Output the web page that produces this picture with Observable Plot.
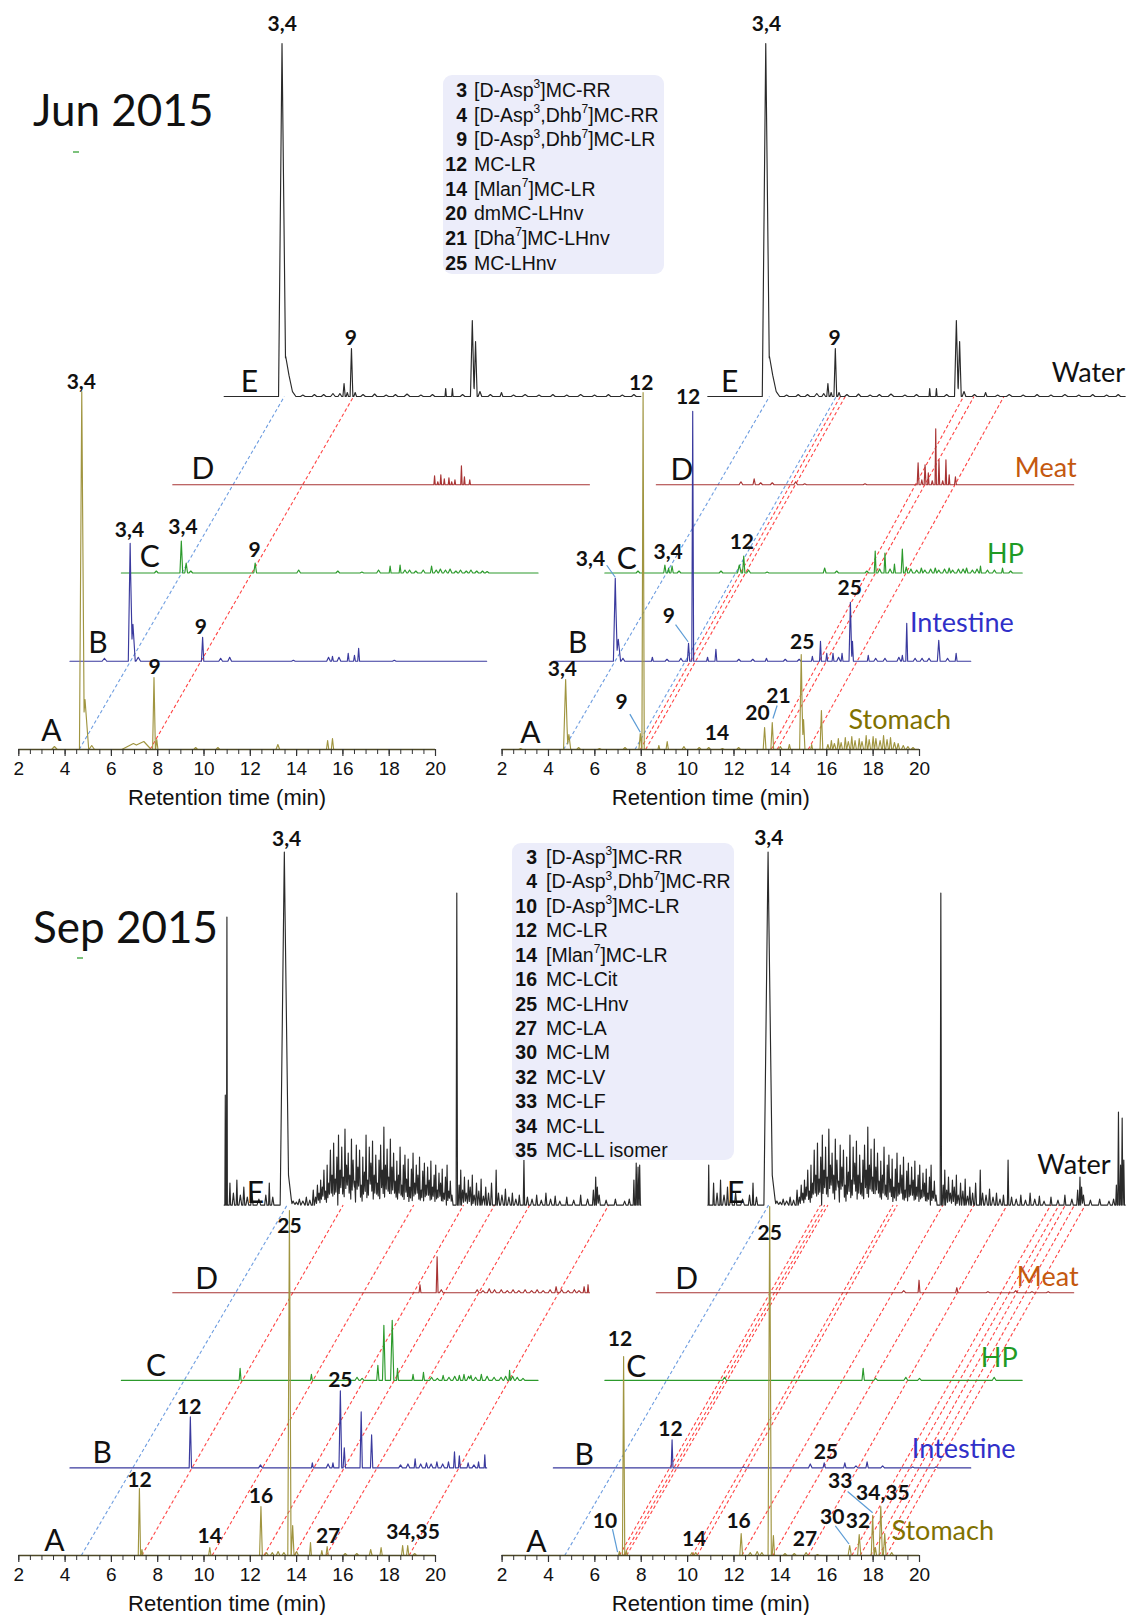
<!DOCTYPE html>
<html>
<head>
<meta charset="utf-8">
<script src="https://cdn.jsdelivr.net/npm/d3@7"></script>
<script src="https://cdn.jsdelivr.net/npm/@observablehq/plot@0.6"></script>
<style>
  body { margin: 0; background: #fff; }
  #page { position: relative; width: 1131px; height: 1615px; overflow: hidden; font-family: "Liberation Sans", Arial, sans-serif; }
  .panel { position: absolute; left: 0; }
  .panel svg { overflow: visible; }
  .title { position: absolute; left: 33px; font-family: Lato, sans-serif; font-size: 44px; line-height: 44px; color: #111; white-space: nowrap; }
  .dash { position: absolute; width: 6px; height: 1.5px; background: #7cc27c; }
  .legend { position: absolute; background: #ecedfa; border-radius: 9px; color: #111; font-family: "Liberation Sans", Arial, sans-serif; font-size: 19.5px; }
  .legend .row { display: flex; align-items: center; white-space: nowrap; }
  .legend .num { font-weight: bold; text-align: right; flex: none; }
  .legend sup { font-size: 12px; line-height: 0; position: relative; top: -1px; }
</style>
</head>
<body>
<div id="page"></div>
<script>
// ---------------- DATA (retention time in min, intensity in relative units) ----------------
const majorTicks = [2, 4, 6, 8, 10, 12, 14, 16, 18, 20];
const axisTitle = "Retention time (min)";
const traceLetters = ["A", "B", "C", "D", "E"];
const sampleNames = ["Stomach", "Intestine", "HP", "Meat", "Water"];

// Jun 2015 - peaks [time, height, halfWidth]
const junWater = [[4.5,353,0.15],[4.66,40,0.3],[4.95,5,0.15],[5.4,1.5,0.1],[5.9,2,0.1],[6.3,2,0.1],[6.7,3,0.1],[7.0,3,0.08],[7.18,13,0.05],[7.32,4,0.05],[7.5,48,0.06],[7.66,4,0.06],[8.0,2,0.1],[8.5,2.5,0.1],[9.0,1.5,0.1],[9.4,2,0.1],[9.9,2.5,0.12],[10.5,1.5,0.1],[11.0,2,0.1],[11.57,8,0.03],[11.86,8,0.03],[12.3,2,0.1],[12.72,76,0.08],[12.86,55,0.07],[13.05,5,0.08],[13.5,2,0.1],[13.98,4,0.06],[14.5,1.5,0.1],[15.0,2,0.12],[15.6,1.5,0.1],[16.2,2,0.1],[16.8,1.5,0.1],[17.4,2,0.12],[18.0,1.5,0.1],[18.6,2,0.1],[19.2,1.5,0.1],[19.7,2,0.1]];
const junL_stomach = [[3.54,3,0.12],[4.72,358,0.1],[4.86,50,0.16],[5.15,4,0.12],[6.95,6,0.5],[7.4,8,0.32],[7.84,72,0.06],[7.96,10,0.05],[9.64,2],[10.6,2],[13.19,5,0.08],[15.34,9,0.05],[15.55,11,0.05]];
const junL_intestine = [[3.49,3,0.1],[4.6,118,0.08],[4.72,37,0.1],[4.95,4,0.1],[7.73,24,0.05],[8.51,3],[8.9,4],[11.65,1],[13.17,4],[13.34,5],[13.62,4],[14.02,8,0.04],[14.29,6,0.04],[14.47,13,0.04],[16.01,1]];
const junL_hp = [[3.51,2],[4.59,32,0.06],[4.8,10,0.06],[5.0,2],[7.78,10,0.06],[9.66,3],[11.35,2],[12.39,1],[13.11,3],[13.61,7,0.04],[14.04,8,0.04],[14.25,3],[14.45,3],[14.72,2],[15.04,3],[15.4,7,0.05],[15.6,3],[15.78,4],[16.0,3],[16.2,4],[16.45,2],[16.65,3],[16.9,2],[17.1,3],[17.35,2],[17.6,2],[17.8,1.5]];
const junL_meat = [[13.31,9,0.03],[13.45,3,0.03],[13.58,10,0.03],[13.73,6,0.03],[13.93,7,0.03],[14.05,3,0.03],[14.19,5,0.03],[14.47,19,0.03],[14.6,8,0.03],[14.83,5,0.03]];
const junR_stomach = [[2.8,1],[4.74,70,0.09],[4.88,15,0.08],[5.3,2],[6.2,1],[7.3,2],[7.96,16,0.06],[8.08,357,0.05],[8.76,4,0.04],[9.12,8,0.05],[9.84,3],[10.5,2],[10.91,2],[11.5,1],[12.2,2],[13.32,22,0.06],[13.65,27,0.06],[14.0,3],[14.39,5,0.05],[14.9,95,0.07],[15.0,30,0.06],[15.35,5],[15.77,39,0.06],[16.05,5,0.06],[16.2,9,0.05],[16.33,6,0.07],[16.5,11,0.05],[16.62,7,0.06],[16.8,12,0.05],[16.93,8,0.07],[17.08,13,0.05],[17.22,9,0.06],[17.4,11,0.05],[17.52,8,0.07],[17.7,14,0.05],[17.83,10,0.06],[18.0,13,0.05],[18.12,11,0.06],[18.3,9,0.07],[18.45,14,0.05],[18.6,10,0.06],[18.75,12,0.05],[18.92,7,0.07],[19.08,6,0.06],[19.3,4,0.08],[19.5,3,0.08],[19.72,2,0.08]];
const junR_intestine = [[4.67,83,0.08],[4.8,22,0.1],[5.0,3],[6.27,4,0.04],[6.9,2],[7.5,3],[7.83,18,0.05],[8.01,250,0.04],[8.65,4,0.04],[9.01,12,0.04],[10.0,2],[10.6,2],[11.19,3,0.05],[12.0,2],[12.6,2],[13.17,5,0.04],[13.52,20,0.04],[13.79,8,0.04],[14.06,8,0.04],[14.3,4],[14.45,8,0.04],[14.81,59,0.06],[14.9,20],[15.58,6,0.04],[15.9,3],[16.3,3],[16.9,4],[17.05,6,0.04],[17.24,38,0.04],[17.6,3],[17.9,3],[18.2,3],[18.62,21,0.06],[19.0,3],[19.37,8,0.04]];
const junR_hp = [[3.43,2],[4.59,8,0.05],[4.75,5,0.04],[4.9,7,0.05],[5.2,2],[7.01,2],[7.8,8,0.08],[7.99,17,0.05],[8.2,3],[9.0,1],[11.48,5,0.06],[12.0,2],[13.3,2],[13.66,22,0.04],[13.85,4],[14.08,20,0.04],[14.3,4],[14.49,9,0.04],[14.83,24,0.05],[15.0,6,0.06],[15.2,4],[15.45,3],[15.65,5,0.06],[15.8,3],[16.05,4],[16.25,5,0.06],[16.4,3],[16.65,4],[16.85,5,0.06],[17.0,3],[17.25,4],[17.45,4],[17.6,5,0.06],[17.85,3],[18.05,4],[18.2,7,0.04],[18.5,3],[18.8,3],[19.15,5,0.04],[19.5,2]];
const junR_meat = [[5.65,3],[6.22,6,0.05],[6.5,2],[7.0,2],[8.01,3],[8.4,1],[11.0,1],[13.29,22,0.04],[13.45,5,0.04],[13.59,20,0.04],[13.73,12,0.03],[13.9,4,0.04],[14.05,56,0.03],[14.19,25,0.03],[14.35,4,0.04],[14.49,25,0.03],[14.63,10,0.03],[14.9,8,0.04]];

// Sep 2015
const sepWater = [[2.25,22,0.03],[2.4,12,0.05],[2.55,25,0.03],[2.7,10,0.06],[2.85,18,0.04],[3.0,8,0.06],[3.2,12,0.05],[3.5,6,0.08],[3.8,10,0.05],[3.95,22,0.03],[4.1,8,0.05],
  [4.6,353,0.18],[4.78,30,0.15],[4.98,4,0.08],[5.12,3],[5.25,6,0.06],[5.4,4],[5.55,8,0.05],[5.7,5,0.06],[5.85,15,0.04],[5.95,8,0.05],[6.03,20,0.04],
  [6.10,12,0.05],[6.17,25,0.03],[6.24,18,0.06],[6.31,35,0.04],[6.38,14,0.05],[6.45,40,0.03],[6.52,22,0.06],[6.59,55,0.04],[6.66,30,0.05],[6.73,62,0.035],[6.80,26,0.06],[6.87,48,0.04],[6.94,70,0.03],[7.01,35,0.06],[7.08,58,0.04],[7.15,28,0.05],[7.22,76,0.035],[7.29,40,0.06],[7.36,52,0.04],[7.43,30,0.05],[7.50,66,0.03],[7.57,45,0.06],[7.64,24,0.04],[7.71,60,0.035],[7.78,38,0.06],[7.85,55,0.04],[7.92,20,0.05],[7.99,48,0.03],[8.06,33,0.06],[8.13,70,0.035],[8.20,25,0.05],[8.27,58,0.04],[8.34,42,0.06],[8.41,64,0.03],[8.48,30,0.05],[8.55,50,0.04],[8.62,22,0.06],[8.69,45,0.035],[8.76,60,0.04],[8.83,35,0.06],[8.90,78,0.03],[8.97,40,0.05],[9.04,56,0.04],[9.11,28,0.06],[9.18,66,0.035],[9.25,38,0.05],[9.32,52,0.04],[9.39,24,0.06],[9.46,44,0.03],[9.53,30,0.05],[9.60,58,0.04],[9.67,20,0.06],[9.74,40,0.035],[9.81,50,0.04],[9.88,26,0.06],[9.95,46,0.03],[10.02,18,0.05],[10.09,36,0.04],[10.16,52,0.035],[10.23,22,0.06],[10.30,40,0.04],[10.37,30,0.05],[10.44,48,0.03],[10.51,15,0.06],[10.58,34,0.04],[10.65,42,0.035],[10.72,20,0.06],[10.79,38,0.04],[10.86,25,0.05],[10.93,44,0.03],[11.00,18,0.06],[11.07,30,0.04],[11.14,40,0.035],[11.21,15,0.06],[11.28,32,0.04],[11.35,22,0.05],[11.42,36,0.03],[11.49,12,0.06],[11.56,28,0.04],[11.63,40,0.03],[11.70,14,0.06],[11.77,24,0.04],[11.84,10,0.05],
  [12.05,312,0.03],[12.15,20,0.04],[12.22,35,0.03],[12.3,15,0.05],[12.38,28,0.04],[12.46,12,0.06],[12.55,25,0.04],[12.63,18,0.05],[12.72,30,0.03],[12.8,10,0.06],[12.9,22,0.04],[13.0,14,0.05],[13.1,26,0.03],[13.2,9,0.06],[13.3,18,0.04],[13.42,12,0.05],[13.55,22,0.04],[13.75,35,0.03],[13.85,12,0.05],[14.0,10,0.06],[14.15,16,0.04],[14.3,8,0.06],[14.45,12,0.04],[14.6,6,0.06],[14.75,10,0.04],[14.95,45,0.03],[15.1,8,0.05],[15.3,6,0.06],[15.5,10,0.04],[15.7,5,0.06],[15.9,12,0.04],[16.1,6,0.06],[16.3,9,0.04],[16.5,4,0.06],[16.8,8,0.04],[17.1,5,0.06],[17.4,10,0.04],[17.7,6,0.06],[17.95,15,0.04],[18.05,28,0.03],[18.12,18,0.04],[18.2,10,0.05],[18.5,5,0.06],[18.9,6,0.05],[19.3,4,0.06],[19.5,6,0.05]];
const sepWaterLeftOnly = [[2.05,110,0.02],[2.12,288,0.02],[19.7,25,0.03],[19.8,42,0.03],[19.88,38,0.03],[19.95,40,0.03]];
const sepWaterRightOnly = [[2.04,40,0.02],[19.62,20,0.03],[19.71,93,0.03],[19.8,40,0.03],[19.87,87,0.03],[19.94,45,0.03]];
const sepL_stomach = [[7.21,67,0.05],[7.32,6,0.04],[10.25,8,0.05],[12.46,49,0.06],[12.7,3],[12.95,3],[13.2,4],[13.45,3],[13.69,345,0.07],[13.83,30,0.06],[14.0,4],[14.6,13,0.04],[15.09,5,0.04],[15.32,9,0.05],[16.1,2],[16.6,2],[17.2,6,0.06],[17.65,8,0.05],[18.58,10,0.05],[18.8,10,0.05],[19.1,2]];
const sepL_intestine = [[7.2,51,0.05],[10.23,3],[12.47,5,0.04],[13.15,4],[13.36,5,0.04],[13.68,77,0.06],[13.85,20,0.05],[14.58,56,0.05],[15.03,33,0.05],[16.28,3],[16.6,4],[16.91,9,0.04],[17.15,4],[17.4,5,0.05],[17.6,4],[17.85,6,0.05],[18.1,4],[18.35,6,0.05],[18.61,16,0.04],[18.82,12,0.04],[19.2,5,0.05],[19.45,3],[19.65,6,0.04],[19.92,13,0.03]];
const sepL_hp = [[7.13,12,0.04],[10.21,6,0.04],[12.18,3],[12.4,2],[13.08,15,0.05],[13.34,55,0.06],[13.7,60,0.07],[13.93,12,0.04],[14.6,6,0.04],[15.05,8,0.04],[15.4,3],[15.65,2],[15.9,5,0.05],[16.15,3],[16.4,4],[16.6,5,0.05],[16.8,6,0.05],[17.0,4],[17.1,5,0.05],[17.3,3],[17.55,6,0.05],[17.8,4],[18.1,3],[18.4,3],[18.6,4],[18.77,10,0.03],[18.9,4],[19.1,3],[19.35,2]];
const sepL_meat = [[12.68,8,0.04],[13.42,36,0.04],[13.6,3],[15.15,3],[15.4,2],[15.67,4],[15.9,3],[16.19,3],[16.45,2],[16.7,3],[16.95,2],[17.22,3],[17.5,2],[17.74,3],[18.0,2],[18.3,3],[18.56,6,0.05],[18.8,3],[19.08,2],[19.35,3],[19.55,2],[19.77,6,0.04],[19.94,8,0.03]];
const sepR_stomach = [[7.06,4,0.04],[7.24,199,0.05],[7.36,5,0.04],[10.19,3],[10.35,3],[12.31,22,0.06],[12.7,3],[13.0,4],[13.2,3],[13.54,349,0.07],[13.7,20,0.05],[14.2,2],[14.6,2],[15.11,3],[15.6,1],[16.99,10,0.07],[17.4,21,0.07],[17.98,40,0.06],[18.1,8,0.05],[18.33,49,0.07],[18.5,22,0.06],[18.8,3]];
const sepR_intestine = [[7.12,28,0.04],[10.2,1],[13.08,4],[13.68,5,0.05],[14.57,5,0.05],[15.05,2],[15.53,6,0.05],[16.2,2],[17.5,1],[18.5,1]];
const sepR_hp = [[7.16,3],[13.14,12,0.05],[13.68,2],[14.98,3],[15.57,2],[18.79,3]];
const sepR_meat = [[12.67,2],[13.33,12.5,0.04],[14.96,5,0.05],[16.3,1],[17.5,2],[18.2,1],[18.9,1]];

// guide lines: [time on A, time on E, kind]
const junL_guides = [[4.61,4.6,"b"],[7.67,7.59,"r"]];
const junR_guides = [[4.65,4.66,"b"],[7.73,7.54,"b"],[7.96,7.72,"r"],[8.19,7.93,"r"],[13.6,13.03,"r"],[13.86,13.48,"r"],[15.2,14.77,"r"]];
const sepL_guides = [[4.7,4.72,"b"],[7.31,7.14,"r"],[10.35,10.19,"r"],[12.59,12.34,"r"],[13.89,13.68,"r"],[15.28,15.2,"r"],[18.86,18.61,"r"]];
const sepR_guides = [[4.7,4.62,"b"],[7.06,6.86,"r"],[7.24,7.04,"r"],[7.37,7.18,"r"],[10.19,9.99,"r"],[10.41,10.17,"r"],[12.34,12.14,"r"],[13.68,13.48,"r"],[15.2,14.91,"r"],[17.08,16.79,"r"],[17.44,17.15,"r"],[17.89,17.42,"r"],[18.25,17.81,"r"],[18.57,18.28,"r"]];

// peak labels: [trace, time, height, text]
const junL_peakLabels = [[0,4.70,367,"3,4"],[0,7.87,82,"9"],[1,4.57,131,"3,4"],[1,7.65,34,"9"],[2,4.66,45.5,"3,4"],[2,7.76,22.5,"9"],[4,4.51,372.5,"3,4"],[4,7.47,58.6,"9"]];
const junR_peakLabels = [[0,4.6,80,"3,4"],[0,7.15,47,"9"],[0,8.0,366,"12"],[0,11.27,16,"14"],[0,13.01,36,"20"],[0,13.92,53,"21"],[0,14.94,107,"25"],[1,3.6,102,"3,4"],[1,6.98,44.8,"9"],[1,7.81,263.5,"12"],[1,14.78,72.8,"25"],[2,4.73,20.7,"3,4"],[2,7.91,30.6,"12"],[4,4.53,372.5,"3,4"],[4,7.47,58.6,"9"]];
const sepL_peakLabels = [[0,7.21,75.7,"12"],[0,10.25,19.7,"14"],[0,12.46,59,"16"],[0,13.69,329,"25"],[0,15.36,19.7,"27"],[0,19.03,23.7,"34,35"],[1,7.15,60.4,"12"],[1,13.68,88,"25"],[4,4.7,366,"3,4"]];
const sepR_peakLabels = [[0,6.44,34.5,"10"],[0,7.08,216,"12"],[0,10.28,16.4,"14"],[0,12.2,34.5,"16"],[0,13.54,322,"25"],[0,15.06,16.4,"27"],[0,16.24,37.8,"30"],[0,17.35,34.5,"32"],[0,16.58,74,"33"],[0,18.42,62.5,"34,35"],[1,7.05,39,"12"],[1,13.75,16,"25"],[4,4.63,367,"3,4"]];

// trace letter label anchors: [trace, time, height]
const junL_letters = [[0,3.41,18],[1,3.21,18],[2,3.23,16],[3,3.3,15],[4,3.09,14]];
const junR_letters = [[0,3.22,16],[1,3.05,18],[2,2.95,14],[3,3.1,14.6],[4,2.94,14]];
const sepL_letters = [[0,3.54,14],[1,3.39,14.4],[2,3.5,14],[3,3.46,13.5],[4,3.35,11.6]];
const sepR_letters = [[0,3.48,13],[1,3.33,12.7],[2,3.36,12.5],[3,3.31,13.5],[4,3.2,11.6]];

// sample labels: [trace, time, height, anchor]
const junR_samples = [[0,16.94,29,"start"],[1,17.38,37.7,"start"],[2,19.28,19,"middle"],[3,18.79,16.4,"middle"],[4,20,23,"end"]];
const sepR_samples = [[0,18.79,23.7,"start"],[1,17.46,18.4,"start"],[2,19.01,22,"middle"],[3,18.88,15,"middle"],[4,17.79,39.6,"middle"]];

// leader lines: [trace, t1, h1, t2, h2]
const junR_leaders = [[0,7.51,35.4,7.96,17.3],[0,13.86,44,13.68,31],[1,4.3,96,4.67,84],[1,7.27,36.7,7.81,19.5]];
const sepR_leaders = [[0,6.76,26.3,6.98,3.3],[0,16.37,29.6,16.96,11.5],[0,16.9,64,17.98,42.8]];

// legends
const junCompoundIds = ["3","4","9","12","14","20","21","25"];
const junCompoundNames = ["[D-Asp^3]MC-RR","[D-Asp^3,Dhb^7]MC-RR","[D-Asp^3,Dhb^7]MC-LR","MC-LR","[Mlan^7]MC-LR","dmMC-LHnv","[Dha^7]MC-LHnv","MC-LHnv"];
const sepCompoundIds = ["3","4","10","12","14","16","25","27","30","32","33","34","35"];
const sepCompoundNames = ["[D-Asp^3]MC-RR","[D-Asp^3,Dhb^7]MC-RR","[D-Asp^3]MC-LR","MC-LR","[Mlan^7]MC-LR","MC-LCit","MC-LHnv","MC-LA","MC-LM","MC-LV","MC-LF","MC-LL","MC-LL isomer"];

// ---------------- STYLE / LAYOUT ----------------
const W = 1131;
const traceColors = ["#a09540", "#3a3a9e", "#2c9a2c", "#a83434", "#2a2a2a"];
const sampleColors = ["#7f7100", "#3030c8", "#1f9b25", "#c4580f", "#111111"];
const guideColors = {b: "#6e9de0", r: "#ff4545"};
const traceDx = [0, 2.21, 4.43, 6.65, 8.87];

function halfWidth(p) { return p[2] !== undefined ? p[2] : (p[1] <= 4 ? 0.08 : 0.04); }
function profile(peaks) {
  const xs = new Set([2, 20]);
  for (const p of peaks) { const w = halfWidth(p); xs.add(p[0] - w); xs.add(p[0]); xs.add(p[0] + w); }
  const arr = [...xs].filter(x => x >= 2 && x <= 20).sort((a, b) => a - b);
  return arr.map(x => [x, d3.max(peaks, p => Math.max(0, p[1] * (1 - Math.abs(x - p[0]) / halfWidth(p)))) || 0]);
}

function panel(cfg) {
  const {xRange, base, step, svgHeight, traces, guides, peakLabels, letters, samples = [], leaders = []} = cfg;
  const X = (i, t) => t + traceDx[i];
  const Y = (i, h) => h + i * step;
  const marks = [];
  for (const k of ["b", "r"]) {
    marks.push(Plot.link(guides.filter(g => g[2] === k), {
      x1: d => X(0, d[0]), y1: () => Y(0, 0), x2: d => X(4, d[1]), y2: () => Y(4, 0),
      stroke: guideColors[k], strokeWidth: 1.1, strokeDasharray: "3.5,2.5"
    }));
  }
  for (const i of [4, 3, 2, 1, 0]) {
    marks.push(Plot.line(profile(traces[i]), {x: d => X(i, d[0]), y: d => Y(i, d[1]), stroke: traceColors[i], strokeWidth: 1.15}));
  }
  marks.push(Plot.ruleY([0], {x1: majorTicks[0], x2: majorTicks[majorTicks.length - 1], stroke: "#4d4826", strokeWidth: 1.4}));
  marks.push(Plot.axisX({ticks: d3.range(2, 20.001, 0.5), tickSize: 5, tickFormat: () => "", stroke: "#333", strokeWidth: 1}));
  marks.push(Plot.axisX({ticks: majorTicks, tickSize: 7, tickPadding: 5, fontSize: 19, stroke: "#333", strokeWidth: 1.2, fill: "#111", label: null}));
  marks.push(Plot.text([axisTitle], {x: () => d3.mean(majorTicks), y: () => -48, fontSize: 22, fill: "#111"}));
  marks.push(Plot.link(leaders, {x1: d => X(d[0], d[1]), y1: d => Y(d[0], d[2]), x2: d => X(d[0], d[3]), y2: d => Y(d[0], d[4]), stroke: "#5b9bd5", strokeWidth: 1.2}));
  marks.push(Plot.text(peakLabels, {x: d => X(d[0], d[1]), y: d => Y(d[0], d[2]), text: d => d[3], fontWeight: "bold", fontSize: 21, fontFamily: "Lato, sans-serif", fill: "#111"}));
  marks.push(Plot.text(letters, {x: d => X(d[0], d[1]), y: d => Y(d[0], d[2]), text: d => traceLetters[d[0]], fontSize: 30, fontFamily: "Lato, sans-serif", fill: "#111"}));
  for (const s of samples) {
    marks.push(Plot.text([s], {x: d => X(d[0], d[1]), y: d => Y(d[0], d[2]), text: d => sampleNames[d[0]], textAnchor: s[3], fontSize: 27, fontFamily: "Lato, sans-serif", fill: sampleColors[s[0]]}));
  }
  return Plot.plot({
    width: W, height: svgHeight,
    marginTop: 0, marginLeft: 0, marginRight: 0, marginBottom: svgHeight - base,
    x: {domain: [2, 20], range: xRange, axis: null},
    y: {domain: [0, base], range: [base, 0], axis: null},
    style: {background: "transparent", overflow: "visible", fontFamily: "'Liberation Sans', Arial, sans-serif", color: "#222"},
    marks
  });
}

const page = document.getElementById("page");
function place(node, top) {
  const div = document.createElement("div");
  div.className = "panel";
  div.style.top = top + "px";
  div.appendChild(node);
  page.appendChild(div);
}

const leftRange = [18.3, 435];
const rightRange = [501.6, 919];
const topCfg = {base: 749, step: 88.25, svgHeight: 810};
const botCfg = {base: 745, step: 87.6, svgHeight: 805};

place(panel({...topCfg, xRange: leftRange, traces: [junL_stomach, junL_intestine, junL_hp, junL_meat, junWater], guides: junL_guides, peakLabels: junL_peakLabels, letters: junL_letters}), 0);
place(panel({...topCfg, xRange: rightRange, traces: [junR_stomach, junR_intestine, junR_hp, junR_meat, junWater], guides: junR_guides, peakLabels: junR_peakLabels, letters: junR_letters, samples: junR_samples, leaders: junR_leaders}), 0);
place(panel({...botCfg, xRange: leftRange, traces: [sepL_stomach, sepL_intestine, sepL_hp, sepL_meat, sepWater.concat(sepWaterLeftOnly)], guides: sepL_guides, peakLabels: sepL_peakLabels, letters: sepL_letters}), 810);
place(panel({...botCfg, xRange: rightRange, traces: [sepR_stomach, sepR_intestine, sepR_hp, sepR_meat, sepWater.concat(sepWaterRightOnly)], guides: sepR_guides, peakLabels: sepR_peakLabels, letters: sepR_letters, samples: sepR_samples, leaders: sepR_leaders}), 810);

// titles
function title(text, top) {
  const d = document.createElement("div");
  d.className = "title"; d.style.top = top + "px"; d.textContent = text;
  page.appendChild(d);
}
title("Jun 2015", 87);
title("Sep 2015", 904);
for (const [l, t] of [[73, 151], [77, 957]]) {
  const s = document.createElement("div");
  s.className = "dash"; s.style.left = l + "px"; s.style.top = t + "px";
  page.appendChild(s);
}

// legends
function legend(ids, names, box) {
  const d = document.createElement("div");
  d.className = "legend";
  Object.assign(d.style, {left: box.left + "px", top: box.top + "px", width: box.width + "px", height: box.height + "px", paddingTop: box.pad + "px", boxSizing: "border-box"});
  ids.forEach((id, i) => {
    const row = document.createElement("div");
    row.className = "row"; row.style.height = box.row + "px";
    const n = document.createElement("span"); n.className = "num"; n.style.width = box.numW + "px"; n.textContent = id;
    const t = document.createElement("span"); t.style.marginLeft = box.gap + "px";
    names[i].split(/(\^\d)/).forEach(part => {
      if (part.startsWith("^")) { const s = document.createElement("sup"); s.textContent = part.slice(1); t.appendChild(s); }
      else if (part) t.appendChild(document.createTextNode(part));
    });
    row.appendChild(n); row.appendChild(t); d.appendChild(row);
  });
  page.appendChild(d);
}
legend(junCompoundIds, junCompoundNames, {left: 443, top: 75, width: 221, height: 199, pad: 3, row: 24.7, numW: 24, gap: 7});
legend(sepCompoundIds, sepCompoundNames, {left: 512, top: 843, width: 222, height: 317, pad: 2, row: 24.47, numW: 25, gap: 9});
</script>
</body>
</html>
